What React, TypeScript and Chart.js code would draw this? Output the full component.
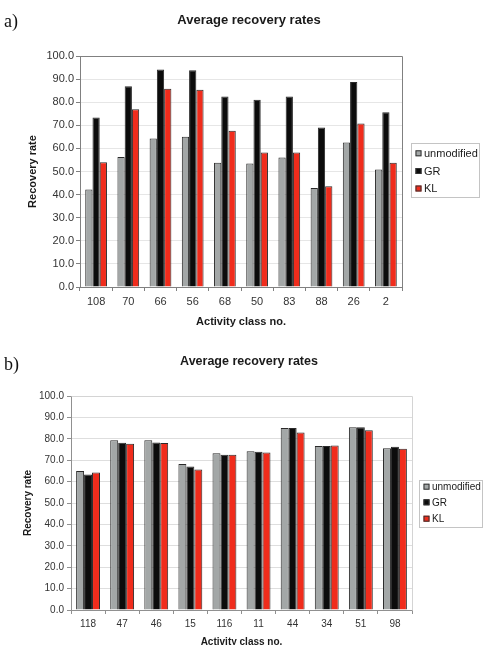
import React, { useEffect, useRef } from "react";
import { Chart, registerables } from "chart.js";

Chart.register(...registerables);
Chart.defaults.font.family = "'Liberation Sans', Arial, sans-serif";

// ---------- data ----------
const seriesNames = ["unmodified", "GR", "KL"];
const seriesColors = ["#a3a7a7", "#0c0c0c", "#f02c1c"];

const chartTitle = "Average recovery rates";
const yAxisTitle = "Recovery rate";
const xAxisTitle = "Activity class no.";
const yMin = 0;
const yMax = 100;
const yStep = 10;

const classesA = ["108", "70", "66", "56", "68", "50", "83", "88", "26", "2"];
const unmodifiedA = [42.2, 56.3, 64.3, 65.0, 53.8, 53.5, 56.1, 42.9, 62.6, 50.9];
const grA = [73.4, 86.9, 94.2, 93.8, 82.5, 81.1, 82.5, 69.1, 88.7, 75.6];
const klA = [54.0, 77.0, 85.8, 85.4, 67.6, 58.2, 58.2, 43.6, 70.8, 53.8];

const classesB = ["118", "47", "46", "15", "116", "11", "44", "34", "51", "98"];
const unmodifiedB = [64.9, 79.3, 79.3, 68.2, 73.3, 74.2, 85.1, 76.6, 85.4, 75.6];
const grB = [63.3, 78.1, 78.3, 67.1, 72.5, 73.9, 85.1, 76.6, 85.4, 76.3];
const klB = [64.2, 77.7, 78.0, 65.7, 72.5, 73.6, 82.9, 76.9, 84.0, 75.3];

// ---------- layout specs ----------
type Spec = {
  label: string;
  top: number;
  height: number;
  padTop: number;
  padRight: number;
  yWidth: number;
  yTitlePad: number;
  yTickPad: number;
  xHeight: number;
  xTickPad: number;
  xTitlePad: number;
  font: number;
  titleFont: number;
  titleY: number;
  labelY: number;
  catPct: number;
  frameColor: string;
  axisColor: string;
  gridColor: string;
  legend: { x: number; y: number; w: number; h: number; items: number[]; sw: number; tx: number; font: number };
};

const specA: Spec = {
  label: "a)",
  top: 0,
  height: 335,
  padTop: 56,
  padRight: 90,
  yWidth: 80,
  yTitlePad: 26.4,
  yTickPad: 2,
  xHeight: 48,
  xTickPad: 4.4,
  xTitlePad: 6.4,
  font: 11,
  titleFont: 13,
  titleY: 20,
  labelY: 22,
  catPct: 0.675,
  frameColor: "#808080",
  axisColor: "#808080",
  gridColor: "#e6e6e6",
  legend: { x: 411, y: 143, w: 68, h: 54, items: [153.3, 171, 188.5], sw: 6, tx: 424, font: 11 },
};

const specB: Spec = {
  label: "b)",
  top: 335,
  height: 320,
  padTop: 61,
  padRight: 80,
  yWidth: 71,
  yTitlePad: 22,
  yTickPad: 3,
  xHeight: 45,
  xTickPad: 4,
  xTitlePad: 7,
  font: 10,
  titleFont: 12.5,
  titleY: 27,
  labelY: 30.5,
  catPct: 0.7,
  frameColor: "#d4d4d4",
  axisColor: "#909090",
  gridColor: "#dedede",
  legend: { x: 419, y: 145, w: 63, h: 47, items: [151.7, 167.3, 183.7], sw: 6, tx: 432, font: 10 },
};

function makeOverlay(spec: Spec) {
  return {
    id: "overlay" + spec.label,
    afterDraw(chart: any) {
      const ctx = chart.ctx as CanvasRenderingContext2D;
      const ca = chart.chartArea;
      ctx.save();
      // top & right frame lines
      ctx.strokeStyle = spec.frameColor;
      ctx.lineWidth = 1;
      const t = Math.floor(ca.top) + 0.5;
      const r = Math.floor(ca.right) + 0.5;
      const b = Math.floor(ca.bottom) + 0.5;
      ctx.beginPath();
      ctx.moveTo(Math.floor(ca.left) + 0.5, t);
      ctx.lineTo(r, t);
      ctx.lineTo(r, b);
      ctx.stroke();

      // chart title
      ctx.fillStyle = "#1a1a1a";
      ctx.font = `bold ${spec.titleFont}px 'Liberation Sans', Arial, sans-serif`;
      ctx.textAlign = "center";
      ctx.textBaseline = "middle";
      ctx.fillText(chartTitle, 249, spec.titleY);

      // panel label
      ctx.fillStyle = "#111";
      ctx.font = `18px 'Liberation Serif', 'Times New Roman', serif`;
      ctx.textAlign = "left";
      ctx.fillText(spec.label, 4, spec.labelY);

      // legend
      const L = spec.legend;
      ctx.strokeStyle = "#c4c4c4";
      ctx.strokeRect(L.x + 0.5, L.y + 0.5, L.w, L.h);
      ctx.font = `${L.font}px 'Liberation Sans', Arial, sans-serif`;
      chart.data.datasets.forEach((ds: any, i: number) => {
        const cy = L.items[i];
        const sx = L.tx - L.sw - 2.5;
        ctx.fillStyle = ds.backgroundColor;
        ctx.fillRect(sx, cy - L.sw / 2, L.sw, L.sw);
        ctx.strokeStyle = "#333";
        ctx.strokeRect(sx + 0.5, cy - L.sw / 2 + 0.5, L.sw - 1, L.sw - 1);
        ctx.fillStyle = "#1a1a1a";
        ctx.textAlign = "left";
        ctx.textBaseline = "middle";
        ctx.fillText(ds.label, L.tx, cy + 0.5);
      });
      ctx.restore();
    },
  };
}

function buildConfig(spec: Spec, classes: string[], series: number[][]) {
  return {
    type: "bar" as const,
    data: {
      labels: classes,
      datasets: series.map((vals, i) => ({
        label: seriesNames[i],
        data: vals,
        backgroundColor: seriesColors[i],
        borderColor: "#2a2a2a",
        borderWidth: 1,
        borderSkipped: "bottom",
        categoryPercentage: spec.catPct,
        barPercentage: 1,
      })),
    },
    options: {
      responsive: false,
      animation: false,
      layout: { padding: { top: spec.padTop, right: spec.padRight, left: 0, bottom: 0 } },
      plugins: {
        legend: { display: false },
        title: { display: false },
        tooltip: { enabled: false },
      },
      scales: {
        x: {
          grid: {
            offset: true,
            drawOnChartArea: false,
            tickLength: 4,
            color: spec.axisColor,
          },
          border: { display: true, color: spec.axisColor, width: 1 },
          ticks: {
            font: { size: spec.font },
            color: "#333",
            padding: spec.xTickPad,
            maxRotation: 0,
            autoSkip: false,
          },
          title: {
            display: true,
            text: xAxisTitle,
            font: { size: spec.font, weight: "bold" },
            color: "#1a1a1a",
            padding: { top: 0, bottom: spec.xTitlePad },
          },
          afterFit: (scale: any) => {
            scale.height = spec.xHeight;
          },
        },
        y: {
          min: yMin,
          max: yMax,
          ticks: {
            stepSize: yStep,
            font: { size: spec.font },
            color: "#333",
            padding: spec.yTickPad,
            callback: (v: any) => Number(v).toFixed(1),
          },
          grid: {
            color: spec.gridColor,
            tickColor: spec.axisColor,
            tickLength: 4,
          },
          border: { display: true, color: spec.axisColor, width: 1 },
          title: {
            display: true,
            text: yAxisTitle,
            font: { size: spec.font, weight: "bold" },
            color: "#1a1a1a",
            padding: { top: spec.yTitlePad, bottom: 0 },
          },
          afterFit: (scale: any) => {
            scale.width = spec.yWidth;
          },
        },
      },
    },
    plugins: [makeOverlay(spec)],
  };
}

function Panel({ spec, classes, series }: { spec: Spec; classes: string[]; series: number[][] }) {
  const ref = useRef<HTMLCanvasElement | null>(null);
  useEffect(() => {
    if (!ref.current) return;
    const chart = new Chart(ref.current, buildConfig(spec, classes, series) as any);
    return () => chart.destroy();
  }, []);
  return (
    <canvas
      ref={ref}
      width={492}
      height={spec.height}
      style={{ position: "absolute", left: 0, top: spec.top, width: 492, height: spec.height }}
    />
  );
}

export default function App() {
  return (
    <div
      style={{
        position: "absolute",
        left: 0,
        top: 0,
        width: 492,
        height: 645,
        overflow: "hidden",
        background: "#fff",
      }}
    >
      <Panel spec={specA} classes={classesA} series={[unmodifiedA, grA, klA]} />
      <Panel spec={specB} classes={classesB} series={[unmodifiedB, grB, klB]} />
    </div>
  );
}
